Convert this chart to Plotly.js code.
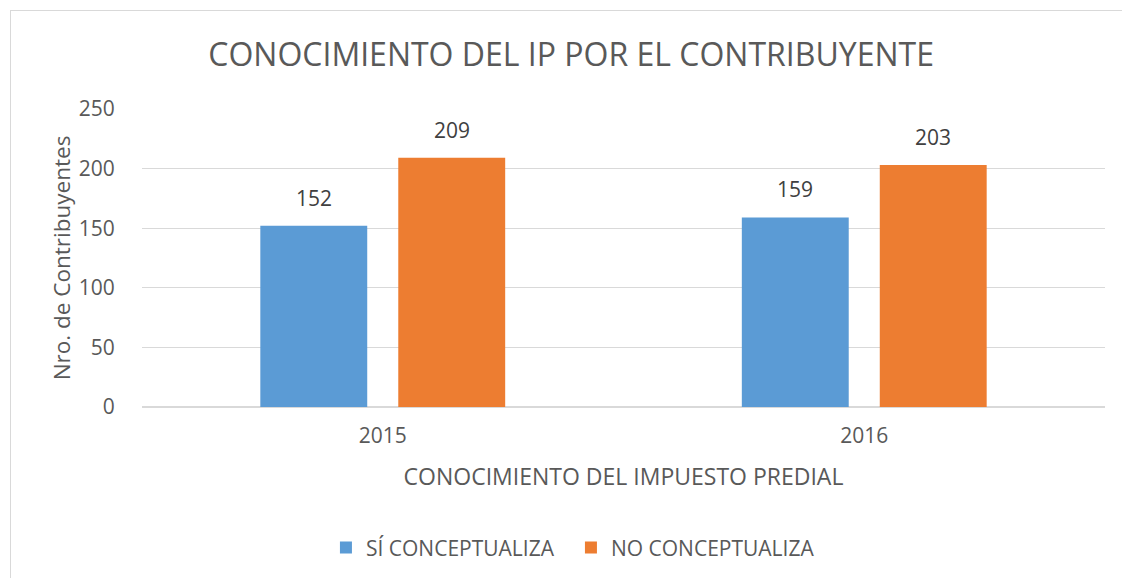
<!DOCTYPE html>
<html>
<head>
<meta charset="utf-8">
<script src="https://cdn.plot.ly/plotly-3.0.1.min.js"></script>
<style>
  html, body { margin: 0; padding: 0; background: #ffffff; overflow: hidden; }
  #wrap { position: relative; width: 1122px; height: 578px; }
  #chart { position: absolute; left: 0; top: 0; width: 1122px; height: 578px; }
  #frame { position: absolute; left: 10px; top: 10px; width: 1130px; height: 590px; border: 1px solid #d9d9d9; pointer-events: none; }
</style>
</head>
<body>
<div id="wrap">
  <div id="chart"></div>
  <div id="frame"></div>
</div>
<script>
const years = ['2015', '2016'];
const siConceptualiza = [152, 159];
const noConceptualiza = [209, 203];
const seriesNames = ['SÍ CONCEPTUALIZA', 'NO CONCEPTUALIZA'];
const chartTitle = 'CONOCIMIENTO DEL IP POR EL CONTRIBUYENTE';
const xTitle = 'CONOCIMIENTO DEL IMPUESTO PREDIAL';
const yTitle = 'Nro. de Contribuyentes';

const FONT = 'Open Sans, Noto Sans, sans-serif';
const blue = '#5b9bd5';
const orange = '#ed7d31';

const traces = [
  { type: 'bar', x: years, y: siConceptualiza, name: seriesNames[0],
    marker: { color: blue }, hoverinfo: 'none' },
  { type: 'bar', x: years, y: noConceptualiza, name: seriesNames[1],
    marker: { color: orange }, hoverinfo: 'none' }
];

const annotations = [];
[siConceptualiza, noConceptualiza].forEach((vals, s) => {
  vals.forEach((v, i) => {
    annotations.push({
      x: i, y: v, xref: 'x', yref: 'y',
      text: String(v), showarrow: false,
      xanchor: 'center', yanchor: 'bottom',
      xshift: s === 0 ? -69 : 69, yshift: 12,
      font: { family: FONT, size: 21, color: '#404040' }
    });
  });
});

const layout = {
  width: 1122, height: 578,
  paper_bgcolor: '#ffffff', plot_bgcolor: '#ffffff',
  margin: { l: 142, r: 17, t: 109, b: 171 },
  font: { family: FONT, color: '#595959' },
  title: { text: chartTitle, x: 0.509, xref: 'container', xanchor: 'center',
           y: 0.905, yanchor: 'middle',
           font: { family: FONT, size: 32, color: '#595959' } },
  barmode: 'group', bargap: 0.427, bargroupgap: 0.225,
  showlegend: true,
  legend: { orientation: 'h', xref: 'container', yref: 'container',
            x: 0.2905, xanchor: 'left', y: 0.052, yanchor: 'middle',
            entrywidth: 200,
            font: { family: FONT, size: 21, color: '#595959' },
            traceorder: 'normal', itemclick: false, itemdoubleclick: false },
  xaxis: { type: 'category', range: [-0.5, 1.5], autorange: false, automargin: false,
           showgrid: false, showline: false, zeroline: false,
           ticks: 'outside', ticklen: 10, tickcolor: 'rgba(0,0,0,0)',
           tickfont: { family: FONT, size: 21, color: '#595959' },
           title: { text: xTitle, standoff: 20, font: { family: FONT, size: 23, color: '#595959' } } },
  yaxis: { range: [0, 250], dtick: 50, tick0: 0, automargin: false,
           showgrid: true, gridcolor: '#d9d9d9', gridwidth: 1,
           zeroline: true, zerolinecolor: '#d9d9d9', zerolinewidth: 2, showline: false,
           ticks: 'outside', ticklen: 22, tickcolor: 'rgba(0,0,0,0)',
           tickfont: { family: FONT, size: 21, color: '#595959' },
           title: { text: yTitle, standoff: 1, font: { family: FONT, size: 22.5, color: '#595959' } } },
  annotations: annotations
};

Plotly.newPlot('chart', traces, layout, { staticPlot: true, displayModeBar: false });
</script>
</body>
</html>
